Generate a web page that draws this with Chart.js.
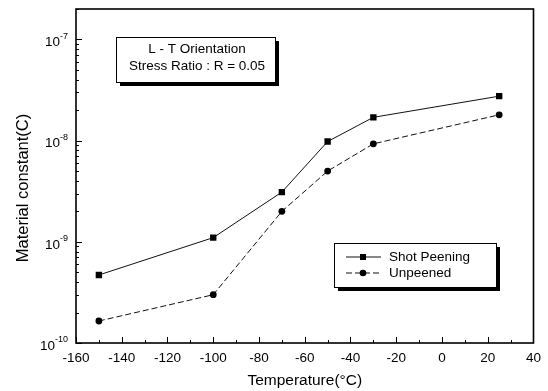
<!DOCTYPE html>
<html>
<head>
<meta charset="utf-8">
<script src="https://cdn.jsdelivr.net/npm/chart.js@4.4.1/dist/chart.umd.min.js"></script>
<style>
    html, body { margin: 0; padding: 0; background: #fff; }
</style>
</head>
<body>
<canvas id="grafico" width="548" height="391"></canvas>
<script>
// ===== Dados =====
const temperaturas = [-150, -100, -70, -50, -30, 25];
const shotPeening = [4.7e-10, 1.1e-9, 3.1e-9, 9.8e-9, 1.7e-8, 2.75e-8];
const unpeened = [1.65e-10, 3.0e-10, 2.0e-9, 5.0e-9, 9.3e-9, 1.8e-8];
const serieNomes = ['Shot Peening', 'Unpeened'];

const xMin = -160, xMax = 40, xPasso = 20;
const yDecadas = [1e-10, 1e-9, 1e-8, 1e-7];
const yExpoentes = ['-10', '-9', '-8', '-7'];
const yMin = 1e-10, yMax = 2e-7;

const tituloX = 'Temperature(\u00B0C)';
const tituloY = 'Material constant(C)';
const notaLinhas = ['L - T Orientation', 'Stress Ratio : R = 0.05'];

const FONTE = '"Liberation Sans", Arial, sans-serif';

// desenha ticks internos, moldura, rótulos do eixo y, título y, nota e legenda
const molduraPlugin = {
    id: 'moldura',
    afterDraw(chart) {
        const { ctx, chartArea: a, scales: { x, y } } = chart;
        ctx.save();
        ctx.strokeStyle = '#000';
        ctx.fillStyle = '#000';
        ctx.lineWidth = 1;

        const linha = (x1, y1, x2, y2) => {
            ctx.beginPath(); ctx.moveTo(x1, y1); ctx.lineTo(x2, y2); ctx.stroke();
        };

        // ticks do eixo x (maior a cada 20, menor a cada 10)
        for (let v = xMin; v <= xMax; v += xPasso / 2) {
            const px = Math.round(x.getPixelForValue(v)) + 0.5;
            linha(px, a.bottom, px, a.bottom - (v % xPasso === 0 ? 6 : 3));
        }

        // ticks do eixo y (log)
        yDecadas.forEach(d => {
            for (let m = 1; m <= 9; m++) {
                const v = d * m;
                if (v > yMax) break;
                const py = Math.round(y.getPixelForValue(v)) + 0.5;
                linha(a.left, py, a.left + (m === 1 ? 6 : 3), py);
            }
        });

        // moldura
        ctx.lineWidth = 1.6;
        ctx.strokeRect(a.left, a.top, a.right - a.left, a.bottom - a.top);

        // rótulos 10^n
        yDecadas.forEach((d, i) => {
            const py = y.getPixelForValue(d);
            ctx.font = '13.5px ' + FONTE;
            const wBase = ctx.measureText('10').width;
            ctx.font = '9px ' + FONTE;
            const wExp = ctx.measureText(yExpoentes[i]).width;
            const fim = a.left - 8;
            const ini = fim - wBase - wExp;
            ctx.textBaseline = 'middle';
            ctx.textAlign = 'left';
            ctx.font = '13.5px ' + FONTE;
            ctx.fillText('10', ini, py + 3);
            ctx.font = '9px ' + FONTE;
            ctx.fillText(yExpoentes[i], ini + wBase, py - 3);
        });

        // título do eixo y
        ctx.save();
        ctx.translate(23, 188);
        ctx.rotate(-Math.PI / 2);
        ctx.font = '16.5px ' + FONTE;
        ctx.textAlign = 'center';
        ctx.textBaseline = 'middle';
        ctx.fillText(tituloY, 0, 0);
        ctx.restore();

        // caixa com sombra
        const caixa = (bx, by, bw, bh) => {
            ctx.fillStyle = '#000';
            ctx.fillRect(bx + 4, by + 4, bw, bh);
            ctx.fillStyle = '#fff';
            ctx.fillRect(bx, by, bw, bh);
            ctx.lineWidth = 1;
            ctx.strokeStyle = '#000';
            ctx.strokeRect(bx + 0.5, by + 0.5, bw, bh);
            ctx.fillStyle = '#000';
        };

        caixa(116, 37, 159, 45);
        ctx.font = '13.5px ' + FONTE;
        ctx.textAlign = 'center';
        ctx.textBaseline = 'middle';
        ctx.fillText(notaLinhas[0], 197, 49);
        ctx.fillText(notaLinhas[1], 197, 66);

        // legenda
        caixa(334, 243, 162, 44);
        chart.data.datasets.forEach((ds, i) => {
            const ly = 257 + i * 16;
            ctx.strokeStyle = ds.borderColor;
            ctx.lineWidth = 1;
            ctx.setLineDash(ds.borderDash || []);
            linha(346, ly, 381, ly);
            ctx.setLineDash([]);
            ctx.fillStyle = ds.pointBackgroundColor;
            if (ds.pointStyle === 'rect') {
                ctx.fillRect(360, ly - 3, 6, 6);
            } else {
                ctx.beginPath(); ctx.arc(363, ly, 3.3, 0, Math.PI * 2); ctx.fill();
            }
            ctx.fillStyle = '#000';
            ctx.font = '13.5px ' + FONTE;
            ctx.textAlign = 'left';
            ctx.fillText(ds.label, 389, ly);
        });

        ctx.restore();
    }
};

new Chart(document.getElementById('grafico'), {
    type: 'line',
    data: {
        datasets: [
            {
                label: serieNomes[0],
                data: temperaturas.map((t, i) => ({ x: t, y: shotPeening[i] })),
                borderColor: '#111',
                borderWidth: 1,
                pointStyle: 'rect',
                pointRadius: 4.5,
                pointBackgroundColor: '#000',
                pointBorderColor: '#000',
                pointBorderWidth: 0,
                tension: 0
            },
            {
                label: serieNomes[1],
                data: temperaturas.map((t, i) => ({ x: t, y: unpeened[i] })),
                borderColor: '#111',
                borderWidth: 1,
                borderDash: [6, 3],
                pointStyle: 'circle',
                pointRadius: 3.4,
                pointBackgroundColor: '#000',
                pointBorderColor: '#000',
                pointBorderWidth: 0,
                tension: 0
            }
        ]
    },
    options: {
        responsive: false,
        animation: false,
        events: [],
        layout: { padding: { top: 9, right: 14, left: 0, bottom: 0 } },
        plugins: {
            legend: { display: false },
            tooltip: { enabled: false }
        },
        scales: {
            x: {
                type: 'linear',
                min: xMin,
                max: xMax,
                grid: { display: false, drawTicks: false },
                border: { display: false },
                ticks: {
                    stepSize: xPasso,
                    color: '#000',
                    padding: 7,
                    maxRotation: 0,
                    font: { family: FONTE, size: 13.5 }
                },
                title: {
                    display: true,
                    text: tituloX,
                    color: '#000',
                    padding: { top: 0, bottom: 1 },
                    font: { family: FONTE, size: 15.5 }
                },
                afterFit: s => { s.height = 48; }
            },
            y: {
                type: 'logarithmic',
                min: yMin,
                max: yMax,
                grid: { display: false, drawTicks: false },
                border: { display: false },
                ticks: { display: false },
                afterBuildTicks: s => { s.ticks = yDecadas.map(v => ({ value: v })); },
                title: { display: false },
                afterFit: s => { s.width = 76; }
            }
        }
    },
    plugins: [molduraPlugin]
});
</script>
</body>
</html>
